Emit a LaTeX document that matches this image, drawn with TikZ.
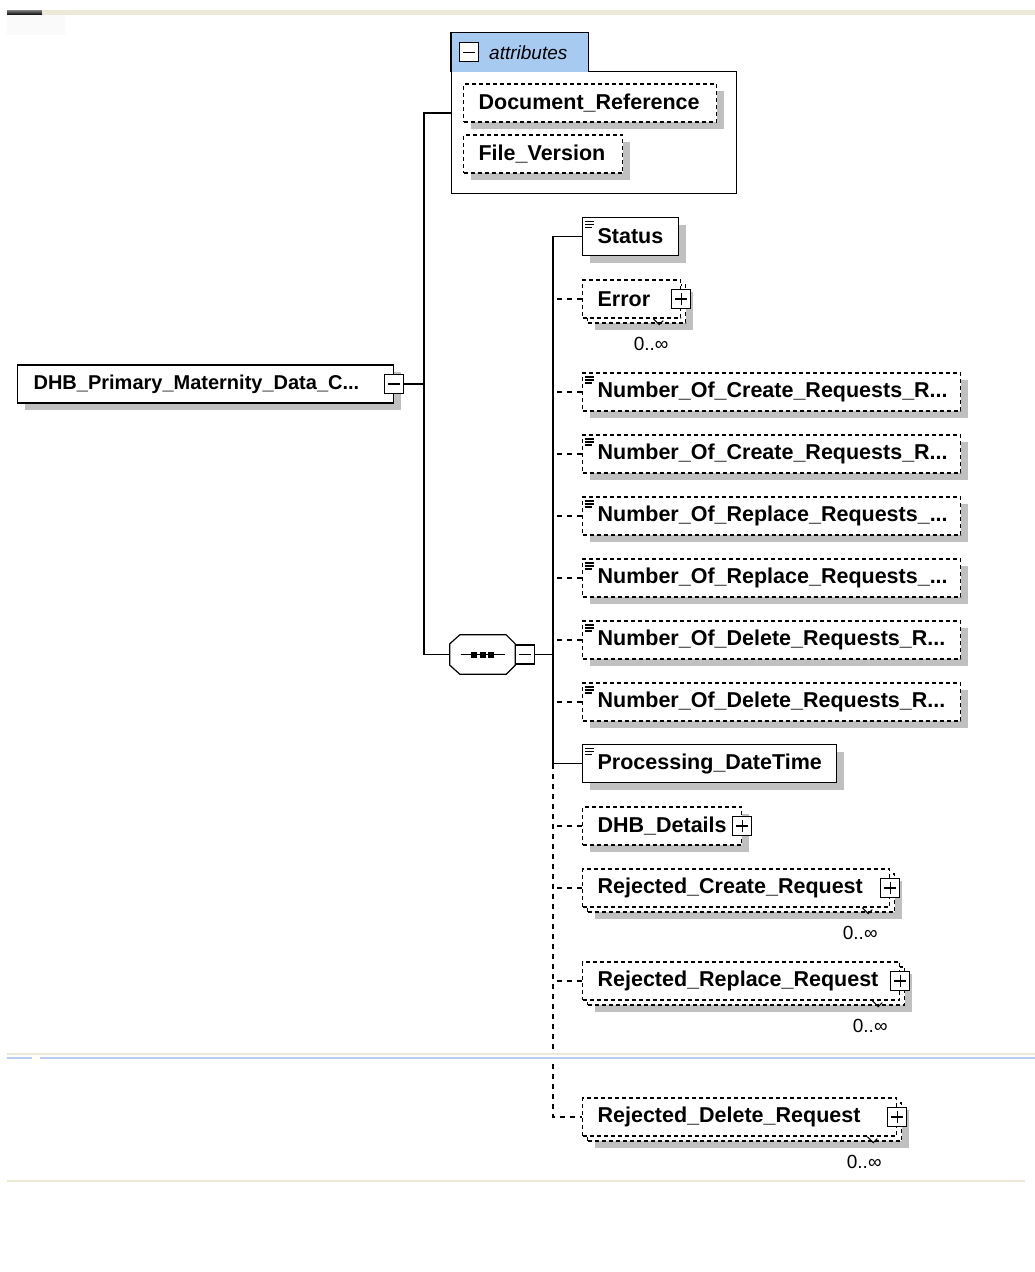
\documentclass[tikz,border=0pt]{standalone}
\usepackage{fontspec}
\setmainfont{Liberation Sans}
\usetikzlibrary{shadows}

\definecolor{shade}{HTML}{C0C0C0}
\definecolor{attrblue}{HTML}{A6CAF0}
\definecolor{band}{HTML}{ECE9D8}
\definecolor{rule}{HTML}{B9CCEF}

\tikzset{
  base/.style={draw, fill=white, line width=1.2pt, inner ysep=0pt, inner xsep=15pt,
    minimum height=38pt, align=left, anchor=west,
    font=\bfseries\fontsize{21.5}{25}\selectfont},
  opt/.style={dash pattern=on 4pt off 3pt},
  optwire/.style={dash pattern=on 5pt off 5pt},
  shd/.style={drop shadow={shadow xshift=7pt, shadow yshift=-7pt, fill=shade, opacity=1}},
  simple/.style={path picture={
    \draw[solid, line width=1.2pt] ([shift={(2pt,-4pt)}]path picture bounding box.north west) -- +(9pt,0pt)
      ([shift={(2pt,-7pt)}]path picture bounding box.north west) -- +(9pt,0pt)
      ([shift={(2pt,-10pt)}]path picture bounding box.north west) -- +(7pt,0pt);}},
  pm/.style={draw, solid, fill=white, line width=1.2pt, minimum size=19pt, inner sep=0pt},
  minus/.style={pm, path picture={
    \draw[line width=1.2pt] ([xshift=-6pt]path picture bounding box.center) -- ([xshift=6pt]path picture bounding box.center);}},
  plus/.style={pm, path picture={
    \draw[line width=1.2pt] ([xshift=-6pt]path picture bounding box.center) -- ([xshift=6pt]path picture bounding box.center)
      ([yshift=-6pt]path picture bounding box.center) -- ([yshift=6pt]path picture bounding box.center);}},
  occ/.style={font=\fontsize{19}{22}\selectfont, inner sep=0pt},
  wire/.style={line width=1.2pt},
  tick/.style={line width=1pt}
}

\begin{document}
\begin{tikzpicture}[x=1pt, y=-1pt]
\useasboundingbox (0,0) rectangle (1035,1272);

\fill[band] (43,10) rectangle (1035,15);
\shade[top color=gray, bottom color=black] (7,10) rectangle (42,15);
\fill[black!2] (7,15) rectangle (65,35);

\node[base, shd, inner xsep=16pt, text width=344pt, font=\bfseries\fontsize{20}{24}\selectfont] (root) at (17,384) {DHB\_Primary\_Maternity\_Data\_C...};
\node[minus] (rootpm) at (root.east) {};

\node[draw, fill=white, line width=1.2pt, anchor=north west, inner sep=0pt,
  minimum width=285pt, minimum height=122pt] (attrs) at (451,71) {};
\node[fill=attrblue, anchor=south west, inner sep=0pt, minimum width=137pt,
  minimum height=39pt] (attrtab) at ([yshift=-1pt]attrs.north west) {};
\draw[wire] (attrtab.south west) |- (attrtab.north east) -- (attrtab.south east);
\node[minus] (attrpm) at ([xshift=18pt]attrtab.west) {};
\node[anchor=west, inner sep=0pt, font=\itshape\fontsize{19}{22}\selectfont] (attrlbl) at ([xshift=38pt]attrtab.west) {attributes};
\node[base, opt, shd, text width=223pt] (docref) at (463,103) {Document\_Reference};
\node[base, opt, shd, text width=129pt] (filever) at (463,154) {File\_Version};

\node[inner sep=0pt, minimum width=65pt, minimum height=39pt] (seq) at (482.5,654.5) {};
\fill[shade, shift={(7,7)}] ([xshift=10pt]seq.north west) -- ([xshift=-9pt]seq.north east)
  -- ([yshift=-9pt]seq.north east) -- ([yshift=9pt]seq.south east) -- ([xshift=-9pt]seq.south east)
  -- ([xshift=10pt]seq.south west) -- ([yshift=9pt]seq.south west) -- ([yshift=-9pt]seq.north west) -- cycle;
\filldraw[wire, fill=white] ([xshift=10pt]seq.north west) -- ([xshift=-9pt]seq.north east)
  -- ([yshift=-9pt]seq.north east) -- ([yshift=9pt]seq.south east) -- ([xshift=-9pt]seq.south east)
  -- ([xshift=10pt]seq.south west) -- ([yshift=9pt]seq.south west) -- ([yshift=-9pt]seq.north west) -- cycle;
\draw[wire] ([xshift=-22pt]seq.center) -- ([xshift=22pt]seq.center);
\fill ([xshift=-8.5pt]seq.center) +(-3,-3) rectangle +(3,3);
\fill (seq.center) +(-3,-3) rectangle +(3,3);
\fill ([xshift=8.5pt]seq.center) +(-3,-3) rectangle +(3,3);
\node[minus, anchor=west] (seqpm) at (seq.east) {};

\node[base, simple, shd, text width=66pt] (status) at (582,236.5) {Status};

\node[base, opt, shd, text width=68pt] (errorbk) at (587,304) {};
\node[base, opt, text width=68pt] (error) at (582,299) {Error};
\node[plus] (errorpm) at (error.east) {};
\draw[tick] ([xshift=-28pt]error.south east) -- ++(6,6) -- ++(4,-4);
\node[occ] (errorocc) at ([xshift=-30pt,yshift=-25pt]error.south east) {0..∞};

\node[base, opt, simple, shd, text width=348pt] (num1) at (582,392) {Number\_Of\_Create\_Requests\_R...};
\node[base, opt, simple, shd, text width=348pt] (num2) at (582,454) {Number\_Of\_Create\_Requests\_R...};
\node[base, opt, simple, shd, text width=348pt] (num3) at (582,516) {Number\_Of\_Replace\_Requests\_...};
\node[base, opt, simple, shd, text width=348pt] (num4) at (582,578) {Number\_Of\_Replace\_Requests\_...};
\node[base, opt, simple, shd, text width=348pt] (num5) at (582,640) {Number\_Of\_Delete\_Requests\_R...};
\node[base, opt, simple, shd, text width=348pt] (num6) at (582,702) {Number\_Of\_Delete\_Requests\_R...};

\node[base, simple, shd, text width=224pt] (procdt) at (582,763.5) {Processing\_DateTime};

\node[base, opt, shd, text width=129pt] (dhbdet) at (582,826) {DHB\_Details};
\node[plus] (dhbdetpm) at (dhbdet.east) {};

\node[base, opt, shd, text width=277pt] (rejcreatebk) at (587,893) {};
\node[base, opt, text width=277pt] (rejcreate) at (582,888) {Rejected\_Create\_Request};
\node[plus] (rejcreatepm) at (rejcreate.east) {};
\draw[tick] ([xshift=-28pt]rejcreate.south east) -- ++(6,6) -- ++(4,-4);
\node[occ] (rejcreateocc) at ([xshift=-30pt,yshift=-25pt]rejcreate.south east) {0..∞};

\node[base, opt, shd, text width=287pt] (rejreplacebk) at (587,986) {};
\node[base, opt, text width=287pt] (rejreplace) at (582,981) {Rejected\_Replace\_Request};
\node[plus] (rejreplacepm) at (rejreplace.east) {};
\draw[tick] ([xshift=-28pt]rejreplace.south east) -- ++(6,6) -- ++(4,-4);
\node[occ] (rejreplaceocc) at ([xshift=-30pt,yshift=-25pt]rejreplace.south east) {0..∞};

\node[base, opt, shd, text width=284pt] (rejdeletebk) at (587,1122) {};
\node[base, opt, text width=284pt] (rejdelete) at (582,1117) {Rejected\_Delete\_Request};
\node[plus] (rejdeletepm) at (rejdelete.east) {};
\draw[tick] ([xshift=-30pt]rejdelete.south east) -- ++(6,6) -- ++(4,-4);
\node[occ] (rejdeleteocc) at ([xshift=-33pt,yshift=-25pt]rejdelete.south east) {0..∞};

\coordinate (trunk) at (424,384);
\coordinate (attrin) at (451,113);
\coordinate (bus) at (553,654.5);

\draw[wire] (rootpm.east) -- (trunk);
\draw[wire] (attrin) -| (trunk);
\draw[wire] (trunk) |- (seq.west);
\draw[wire] (seqpm.east) -- (bus);
\draw[wire] (status.west) -| (bus);
\draw[wire] (bus) |- (procdt.west);
\draw[wire, optwire] (error.west) -- (error.west -| bus);
\draw[wire, optwire] (num1.west) -- (num1.west -| bus);
\draw[wire, optwire] (num2.west) -- (num2.west -| bus);
\draw[wire, optwire] (num3.west) -- (num3.west -| bus);
\draw[wire, optwire] (num4.west) -- (num4.west -| bus);
\draw[wire, optwire] (num5.west) -- (num5.west -| bus);
\draw[wire, optwire] (num6.west) -- (num6.west -| bus);
\draw[wire, optwire] (dhbdet.west) -- (dhbdet.west -| bus);
\draw[wire, optwire] (rejcreate.west) -- (rejcreate.west -| bus);
\draw[wire, optwire] (rejreplace.west) -- (rejreplace.west -| bus);
\draw[wire, optwire] (procdt.west -| bus) |- (rejdelete.west);

\fill[white] (7,1050) rectangle (1035,1062);
\draw[band, line width=1.5pt] (7,1054) -- (1035,1054);
\draw[rule, line width=2pt] (7,1058) -- (32,1058) (40,1058) -- (1035,1058);
\draw[band, line width=1.5pt] (7,1181) -- (1025,1181);
\end{tikzpicture}
\end{document}
